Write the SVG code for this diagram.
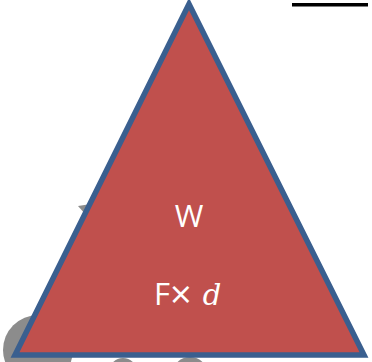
<svg xmlns="http://www.w3.org/2000/svg" width="372" height="362" viewBox="0 0 372 362">
<style>
.bg{fill:#8c8c8c}
.lbl{fill:#ffffff;font-family:"Open Sans","Liberation Sans",sans-serif;font-size:31px}
</style>
<rect width="372" height="362" fill="#ffffff"/>
<g id="background">
<circle class="bg" cx="38" cy="350" r="35"/>
<circle class="bg" cx="123" cy="372" r="14"/>
<circle class="bg" cx="190" cy="375" r="18"/>
<polygon class="bg" points="78,206 91,204 86,215"/>
<rect x="292" y="3" width="76" height="3.5" fill="#000000"/>
</g>
<g id="triangle">
<polygon points="189,4 15,355 364,355" fill="#c0504d" stroke="#3a5f8f" stroke-width="5.5" stroke-linejoin="miter"/>
<text class="lbl" x="189" y="227" text-anchor="middle">W</text>
<text class="lbl" x="154" y="305">F<tspan font-size="38" dy="3">×</tspan><tspan font-family="'DejaVu Serif','Liberation Serif',serif" font-style="italic" font-size="29" dx="11" dy="-3">d</tspan></text>
</g>
</svg>
